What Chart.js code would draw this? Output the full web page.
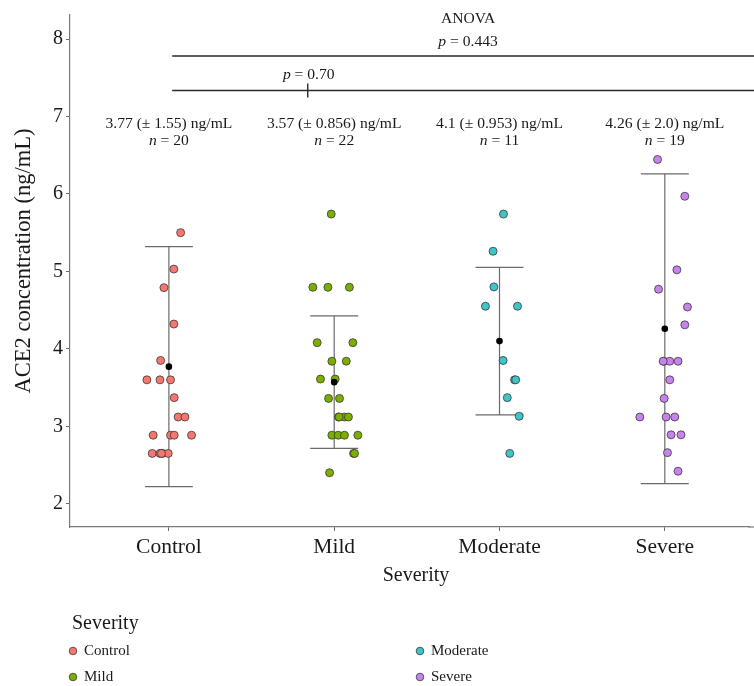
<!DOCTYPE html>
<html><head><meta charset="utf-8">
<script src="https://cdn.jsdelivr.net/npm/chart.js@4/dist/chart.umd.min.js"></script>
<style>html,body{margin:0;padding:0;background:#fff}#wrap{width:754px;height:686px}</style>
</head><body><div id="wrap"><canvas id="c" width="754" height="686"></canvas></div>
<script>
// ---------- data ----------
const categories = ['Control', 'Mild', 'Moderate', 'Severe'];
const pointColors = ['#F8766D', '#7CAE00', '#3CC6CA', '#C882F0'];

const controlValues = [5.50, 5.03, 4.79, 4.32, 3.85, 3.60, 3.60, 3.60, 3.37, 3.12, 3.12, 2.885, 2.885, 2.885, 2.885, 2.65, 2.65, 2.65, 2.65, 2.65];
const controlJitter = [0.071, 0.030, -0.030, 0.030, -0.050, -0.133, -0.054, 0.010, 0.032, 0.056, 0.097, -0.095, 0.010, 0.032, 0.137, -0.101, -0.054, -0.038, -0.004, -0.045];

const mildValues = [5.74, 4.795, 4.795, 4.795, 4.08, 4.08, 3.84, 3.84, 3.61, 3.61, 3.36, 3.36, 3.12, 3.12, 3.12, 3.12, 2.885, 2.885, 2.885, 2.885, 2.65, 2.65, 2.40];
const mildJitter = [-0.018, -0.129, -0.038, 0.092, -0.103, 0.113, -0.014, 0.073, -0.083, 0.006, -0.034, 0.032, 0.026, 0.062, 0.086, 0.030, -0.014, 0.024, 0.062, 0.143, 0.117, 0.123, -0.028];

const moderateValues = [5.74, 5.26, 4.80, 4.55, 4.55, 3.85, 3.60, 3.60, 3.37, 3.13, 2.65];
const moderateJitter = [0.024, -0.039, -0.034, -0.085, 0.109, 0.022, 0.091, 0.098, 0.047, 0.119, 0.062];

const severeValues = [6.445, 5.97, 5.02, 4.77, 4.54, 4.31, 3.84, 3.84, 3.84, 3.84, 3.60, 3.36, 3.12, 3.12, 3.12, 2.89, 2.89, 2.66, 2.42];
const severeJitter = [-0.044, 0.121, 0.073, -0.038, 0.137, 0.121, -0.006, 0.030, 0.080, -0.010, 0.030, -0.004, -0.151, 0.008, 0.060, 0.038, 0.098, 0.016, 0.080];

const groupMeans = [3.77, 3.57, 4.1, 4.26];
const groupSDs = [1.55, 0.856, 0.953, 2.0];
const groupN = [20, 22, 11, 19];
const groupMeanLabels = ['3.77', '3.57', '4.1', '4.26'];
const groupSDLabels = ['1.55', '0.856', '0.953', '2.0'];
const yTicks = [2, 3, 4, 5, 6, 7, 8];
const anovaP = '0.443';
const pairP = '0.70';

// ---------- build ----------
const FONT = "'Liberation Serif', 'DejaVu Serif', serif";
const groupValues = [controlValues, mildValues, moderateValues, severeValues];
const groupJitter = [controlJitter, mildJitter, moderateJitter, severeJitter];

const datasets = categories.map((name, i) => ({
  label: name,
  data: groupValues[i].map((v, k) => ({ x: i + 1 + groupJitter[i][k], y: v })),
  backgroundColor: pointColors[i],
  borderColor: '#3a3a3a',
  borderWidth: 0.8,
  pointRadius: 4,
  order: 1
}));
datasets.push({
  label: 'mean',
  data: groupMeans.map((m, i) => ({ x: i + 1, y: m })),
  backgroundColor: '#000',
  borderColor: '#000',
  borderWidth: 0,
  pointRadius: 3.3,
  order: -1
});

function drawRich(ctx, parts, cx, cy, size) {
  let total = 0;
  parts.forEach(p => {
    ctx.font = (p.i ? 'italic ' : '') + size + 'px ' + FONT;
    p.w = ctx.measureText(p.t).width; total += p.w;
  });
  let x = cx - total / 2;
  ctx.textAlign = 'left'; ctx.textBaseline = 'middle';
  parts.forEach(p => {
    ctx.font = (p.i ? 'italic ' : '') + size + 'px ' + FONT;
    ctx.fillText(p.t, x, cy); x += p.w;
  });
}

const errorBars = {
  id: 'errorBars',
  beforeDatasetsDraw(chart) {
    const { ctx, scales: { x, y }, chartArea } = chart;
    ctx.save();
    // extend x axis line to the window edge
    ctx.strokeStyle = '#7a7a7a'; ctx.lineWidth = 1.2;
    ctx.beginPath(); ctx.moveTo(chartArea.right - 1, chartArea.bottom); ctx.lineTo(756, chartArea.bottom); ctx.stroke();
    ctx.strokeStyle = '#6b6b6b'; ctx.lineWidth = 1.2;
    groupMeans.forEach((m, i) => {
      const cx = x.getPixelForValue(i + 1);
      const l = x.getPixelForValue(i + 1 - 0.145), r = x.getPixelForValue(i + 1 + 0.145);
      const hi = y.getPixelForValue(m + groupSDs[i]), lo = y.getPixelForValue(m - groupSDs[i]);
      ctx.beginPath();
      ctx.moveTo(cx, hi); ctx.lineTo(cx, lo);
      ctx.moveTo(l, hi); ctx.lineTo(r, hi);
      ctx.moveTo(l, lo); ctx.lineTo(r, lo);
      ctx.stroke();
    });
    ctx.restore();
  }
};

const annotations = {
  id: 'annotations',
  afterDatasetsDraw(chart) {
    const { ctx, scales: { x, y } } = chart;
    ctx.save();
    ctx.fillStyle = '#1a1a1a';
    // group summaries
    categories.forEach((c, i) => {
      const cx = x.getPixelForValue(i + 1);
      drawRich(ctx, [{ t: groupMeanLabels[i] + ' (\u00b1 ' + groupSDLabels[i] + ') ng/mL' }], cx, y.getPixelForValue(6.91), 15.6);
      drawRich(ctx, [{ t: 'n', i: true }, { t: ' = ' + groupN[i] }], cx, y.getPixelForValue(6.69), 15.6);
    });
    // brackets
    ctx.strokeStyle = '#2a2a2a'; ctx.lineWidth = 1.4;
    const x0 = x.getPixelForValue(1.02);
    const x1 = 756;
    const yA = y.getPixelForValue(7.78), yB = y.getPixelForValue(7.335);
    ctx.beginPath();
    ctx.moveTo(x0, yA); ctx.lineTo(x1, yA);
    ctx.moveTo(x0, yB); ctx.lineTo(x1, yB);
    const tx = x.getPixelForValue(1.84);
    ctx.moveTo(tx, y.getPixelForValue(7.425)); ctx.lineTo(tx, y.getPixelForValue(7.245));
    ctx.stroke();
    const midA = x.getPixelForValue(2.81);
    drawRich(ctx, [{ t: 'ANOVA' }], midA, y.getPixelForValue(8.255), 15.6);
    drawRich(ctx, [{ t: 'p', i: true }, { t: ' = ' + anovaP }], midA, y.getPixelForValue(7.965), 15.6);
    drawRich(ctx, [{ t: 'p', i: true }, { t: ' = ' + pairP }], tx + 1, y.getPixelForValue(7.535), 15.6);

    // axis titles
    ctx.fillStyle = '#1a1a1a';
    drawRich(ctx, [{ t: 'Severity' }], 416, 576, 20);
    ctx.save();
    ctx.translate(24, 261);
    ctx.rotate(-Math.PI / 2);
    drawRich(ctx, [{ t: 'ACE2 concentration (ng/mL)' }], 0, 0, 22.5);
    ctx.restore();

    // legend
    ctx.textAlign = 'left'; ctx.textBaseline = 'middle';
    ctx.font = '20px ' + FONT;
    ctx.fillText('Severity', 72, 624);
    const legPos = [[73, 651], [73, 677], [420, 651], [420, 677]];
    categories.forEach((c, i) => {
      const [lx, ly] = legPos[i];
      ctx.beginPath(); ctx.arc(lx, ly, 3.8, 0, Math.PI * 2);
      ctx.fillStyle = pointColors[i]; ctx.fill();
      ctx.strokeStyle = '#3a3a3a'; ctx.lineWidth = 0.8; ctx.stroke();
      ctx.fillStyle = '#1a1a1a';
      ctx.font = '15px ' + FONT;
      ctx.fillText(c, lx + 11, ly);
    });
    ctx.restore();
  }
};

new Chart(document.getElementById('c'), {
  type: 'scatter',
  data: { datasets },
  options: {
    responsive: false,
    animation: false,
    devicePixelRatio: 1,
    layout: { padding: { top: 12, right: 0, left: 0, bottom: 0 } },
    plugins: { legend: { display: false }, tooltip: { enabled: false } },
    scales: {
      x: {
        type: 'linear', min: 0.4018, max: 4.5105,
        afterBuildTicks: s => { s.ticks = categories.map((c, i) => ({ value: i + 1 })); },
        afterFit: s => { s.height = 159; },
        ticks: { callback: v => categories[Math.round(v) - 1] || '', font: { family: FONT, size: 21.5 }, color: '#1a1a1a', padding: 3, maxRotation: 0 },
        grid: { display: true, drawOnChartArea: false, drawTicks: true, tickLength: 4, color: '#6b6b6b' },
        border: { display: true, color: '#7a7a7a', width: 1.2 }
      },
      y: {
        type: 'linear', min: 1.7, max: 8.31,
        afterBuildTicks: s => { s.ticks = yTicks.map(v => ({ value: v })); },
        afterFit: s => { s.width = 70; },
        ticks: { font: { family: FONT, size: 20 }, color: '#1a1a1a', padding: 3 },
        grid: { display: true, drawOnChartArea: false, drawTicks: true, tickLength: 4, color: '#6b6b6b' },
        border: { display: true, color: '#7a7a7a', width: 1.2 }
      }
    }
  },
  plugins: [errorBars, annotations]
});
</script>
</body></html>
